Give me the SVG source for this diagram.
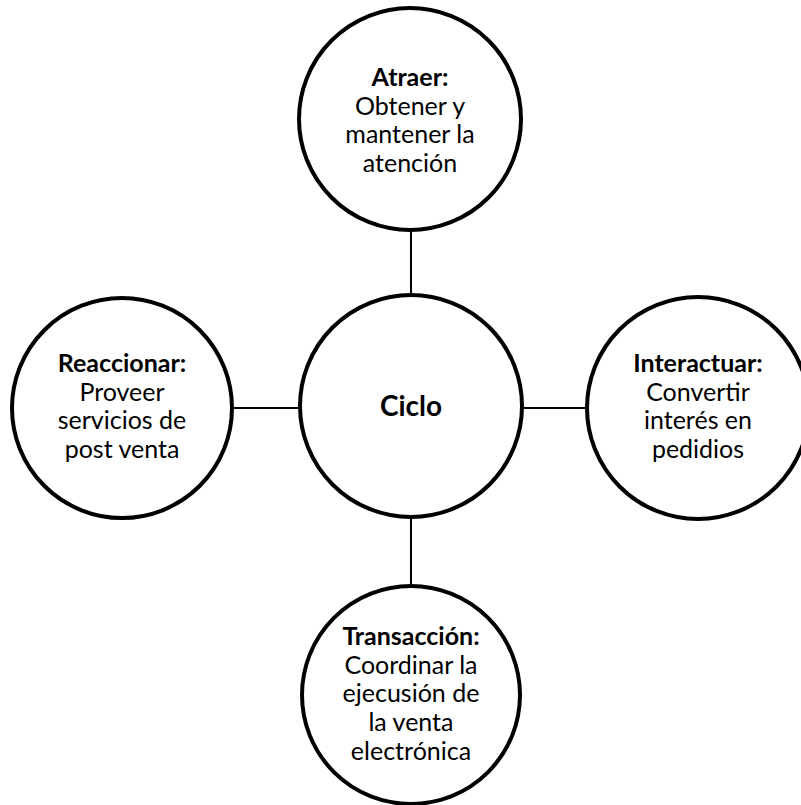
<svg xmlns="http://www.w3.org/2000/svg" width="801" height="805" viewBox="0 0 801 805">
<style>
.c{fill:#fff;stroke:#000;stroke-width:4}
.l{stroke:#000;stroke-width:2;fill:none}
text{font-family:Lato,"Open Sans","Liberation Sans",sans-serif;font-size:25px;text-anchor:middle;fill:#000}
.b{font-weight:bold}
.big{font-size:28px;font-weight:bold}
</style>
<rect width="801" height="805" fill="#fff"/>
<g id="connectors">
<line class="l" x1="411" y1="230" x2="411" y2="295"/>
<line class="l" x1="411" y1="517" x2="411" y2="587"/>
<line class="l" x1="233" y1="408" x2="300" y2="408"/>
<line class="l" x1="522" y1="408" x2="587" y2="408"/>
</g>
<g id="ciclo">
<circle class="c" cx="411" cy="406" r="111"/>
<text class="big" x="411" y="416">Ciclo</text>
</g>
<g id="atraer">
<circle class="c" cx="410" cy="119" r="111"/>
<text x="410" y="86" class="b">Atraer:</text>
<text x="410" y="114.7">Obtener y</text>
<text x="410" y="143.4">mantener la</text>
<text x="410" y="172">atención</text>
</g>
<g id="reaccionar">
<circle class="c" cx="122" cy="408" r="110"/>
<text x="122" y="372" class="b">Reaccionar:</text>
<text x="122" y="400.7">Proveer</text>
<text x="122" y="429.4">servicios de</text>
<text x="122" y="458">post venta</text>
</g>
<g id="interactuar">
<circle class="c" cx="698" cy="408" r="111"/>
<text x="698" y="372" class="b">Interactuar:</text>
<text x="698" y="400.7">Convertir</text>
<text x="698" y="429.4">interés en</text>
<text x="698" y="458">pedidios</text>
</g>
<g id="transaccion">
<circle class="c" cx="411" cy="695" r="109"/>
<text x="411" y="645" class="b">Transacción:</text>
<text x="411" y="673.7">Coordinar la</text>
<text x="411" y="702.4">ejecusión de</text>
<text x="411" y="731.1">la venta</text>
<text x="411" y="760">electrónica</text>
</g>
</svg>
